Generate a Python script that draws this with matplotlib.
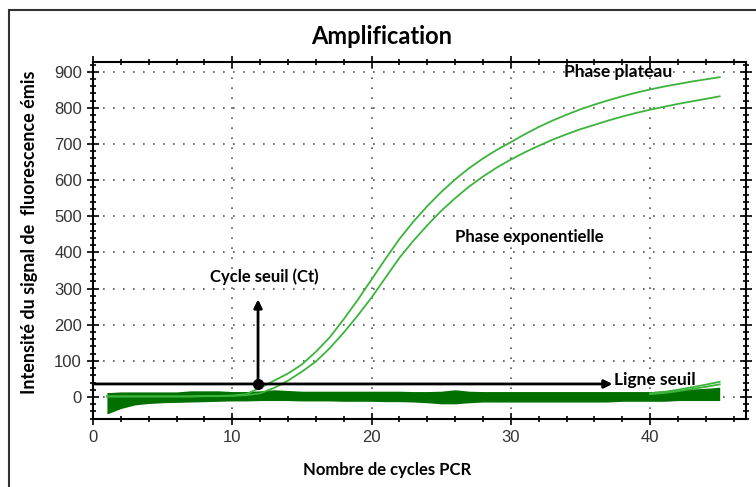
import matplotlib.pyplot as plt
from matplotlib.patches import Rectangle
from matplotlib.ticker import MultipleLocator

cycles = list(range(1, 46))

# two amplified samples
sample_a = [
    2, 2, 2, 2, 2, 2, 2, 3, 3, 4, 8, 25, 45, 65, 90,
    125, 165, 215, 268, 325, 382, 437, 485, 528, 567, 602, 633, 660, 684, 705,
    727, 747, 765, 781, 796, 809, 821, 832, 842, 851, 859, 866, 873, 879, 885,
]
sample_b = [
    1, 1, 1, 1, 1, 1, 1, 2, 2, 3, 5, 10, 25, 45, 70,
    98, 135, 178, 225, 275, 330, 385, 432, 475, 515, 550, 582, 610, 635, 657,
    677, 695, 712, 727, 741, 753, 765, 776, 786, 795, 803, 811, 818, 825, 832,
]
# late rising negatives
late_cycles = [40, 41, 42, 43, 44, 45]
late_a = [10, 14, 20, 27, 34, 42]
late_b = [8, 11, 16, 22, 28, 35]

# background band (many flat curves)
band_low = [
    -47, -32, -22, -18, -16, -15, -14, -13, -12, -11, -11, -10, -10, -10, -11,
    -11, -11, -12, -12, -12, -13, -13, -14, -16, -19, -19, -16, -14, -14, -14,
    -14, -14, -14, -14, -14, -14, -14, -12, -12, -12, -12, -10, -10, -10, -10,
]
band_high = [
    12, 14, 14, 14, 14, 14, 17, 17, 17, 15, 15, 17, 20, 18, 16,
    16, 16, 16, 16, 16, 16, 16, 15, 15, 16, 20, 16, 15, 15, 15,
    15, 15, 15, 15, 15, 15, 15, 15, 15, 15, 17, 20, 22, 24, 27,
]

threshold = 36
ct = 11.85

light = "#3cb43c"
dark = "#007000"

fig = plt.figure(figsize=(7.56, 4.87), dpi=100)
ax = fig.add_axes([0.123, 0.1396, 0.864, 0.7331])

fig.patches.append(Rectangle((9 / 756, -0.1), 1.2, 1 - 10 / 487 + 0.1,
                             transform=fig.transFigure, fill=False,
                             edgecolor="#333333", linewidth=1.5))

ax.fill_between(cycles, band_low, band_high, color=dark, linewidth=0, zorder=3)
ax.plot(cycles, sample_a, color=light, linewidth=1.3, zorder=4)
ax.plot(cycles, sample_b, color=light, linewidth=1.3, zorder=4)
ax.plot(late_cycles, late_a, color=light, linewidth=1.3, zorder=4)
ax.plot(late_cycles, late_b, color=light, linewidth=1.3, zorder=4)

# threshold line and Ct arrow
ax.annotate("", xy=(37.3, threshold), xytext=(0, threshold),
            arrowprops=dict(arrowstyle="-|>", color="black", lw=2,
                            mutation_scale=12, shrinkA=0, shrinkB=0), zorder=5)
ax.annotate("", xy=(ct, 270), xytext=(ct, threshold),
            arrowprops=dict(arrowstyle="-|>", color="black", lw=2,
                            mutation_scale=12, shrinkA=0, shrinkB=0), zorder=5)
ax.plot([ct], [threshold], "o", color="black", markersize=7, zorder=6)

font = ["Lato", "DejaVu Sans"]
ax.text(33.8, 900, "Phase plateau", fontsize=12.5, fontweight="bold", family=font, va="center")
ax.text(26.0, 443, "Phase exponentielle", fontsize=12, fontweight="bold", family=font, va="center")
ax.text(8.4, 332, "Cycle seuil (Ct)", fontsize=12, fontweight="bold", family=font, va="center")
ax.text(37.4, 48, "Ligne seuil", fontsize=12.5, fontweight="bold", family=font, va="center")

ax.set_xlim(0, 46.9)
ax.set_ylim(-61, 927)
ax.xaxis.set_major_locator(MultipleLocator(10))
ax.xaxis.set_minor_locator(MultipleLocator(2))
ax.yaxis.set_major_locator(MultipleLocator(100))
ax.yaxis.set_minor_locator(MultipleLocator(20))
ax.tick_params(which="both", direction="inout", top=True, right=True,
               labeltop=False, labelright=False, width=1.2)
ax.tick_params(which="major", length=9, labelsize=12, labelcolor="#333333")
ax.tick_params(which="minor", length=5)
for lab in ax.get_xticklabels() + ax.get_yticklabels():
    lab.set_family("Liberation Sans")
for s in ax.spines.values():
    s.set_linewidth(1.5)
ax.grid(True, which="major", color="#555555", linestyle=(0, (1, 5)), linewidth=1.2)

fig.text(382 / 756, 1 - 37 / 487, "Amplification", fontsize=17, fontweight="bold",
         family=font, ha="center", va="center")
fig.text(387 / 756, 1 - 470 / 487, "Nombre de cycles PCR", fontsize=12,
         fontweight="bold", family=font, ha="center", va="center")
fig.text(30 / 756, 1 - 232 / 487, "Intensité du signal de  fluorescence émis", fontsize=13,
         fontweight="bold", family=font, ha="center", va="center", rotation=90)

fig.savefig("out.png", dpi=100)
